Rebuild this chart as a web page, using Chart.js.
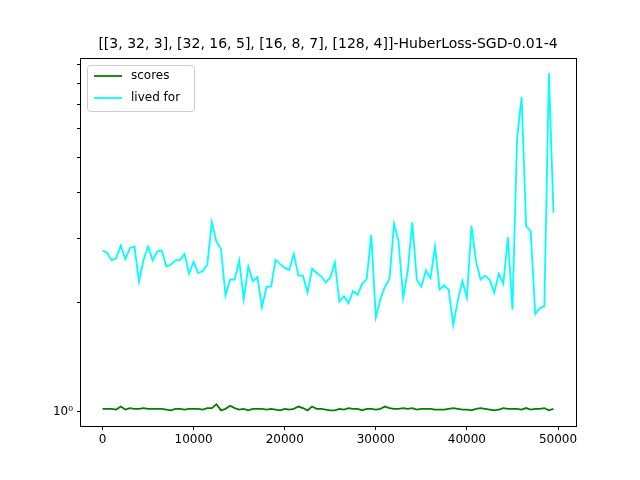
<!DOCTYPE html>
<html><head><meta charset="utf-8">
<script src="https://cdn.jsdelivr.net/npm/chart.js@4.4.0/dist/chart.umd.min.js"></script>
<style>body{margin:0;background:#fff}#c{display:block}</style>
</head><body>
<canvas id="c" width="640" height="480"></canvas>
<script>
const steps=[];for(let i=0;i<100;i++)steps.push(i*500);
const livedFor=[2.78,2.74,2.61,2.65,2.87,2.63,2.82,2.85,2.28,2.62,
2.85,2.61,2.76,2.78,2.51,2.54,2.61,2.62,2.72,2.40,
2.59,2.41,2.44,2.54,3.32,2.94,2.81,2.09,2.31,2.31,
2.61,2.04,2.51,2.29,2.35,1.94,2.21,2.21,2.62,2.55,
2.49,2.46,2.72,2.37,2.37,2.13,2.48,2.41,2.36,2.27,
2.34,2.58,2.01,2.08,1.99,2.15,2.10,2.25,2.32,3.07,
1.82,2.04,2.21,2.32,3.29,2.94,2.06,2.44,3.32,2.31,
2.21,2.45,2.33,2.85,2.17,2.23,2.17,1.73,2.03,2.29,
2.06,3.25,2.59,2.31,2.37,2.31,2.13,2.40,2.25,3.02,
1.91,5.61,7.34,3.24,3.14,1.86,1.93,1.95,8.54,3.53];
const scores=[1.02,1.02,1.02,1.015,1.035,1.015,1.025,1.02,1.02,1.025,
1.02,1.02,1.02,1.02,1.015,1.01,1.02,1.02,1.015,1.02,
1.02,1.02,1.015,1.025,1.025,1.05,1.01,1.02,1.04,1.025,
1.015,1.02,1.01,1.02,1.02,1.02,1.015,1.02,1.015,1.01,
1.02,1.015,1.02,1.035,1.025,1.01,1.035,1.02,1.02,1.015,
1.01,1.01,1.02,1.015,1.025,1.02,1.02,1.01,1.02,1.02,
1.015,1.02,1.035,1.025,1.02,1.02,1.025,1.02,1.025,1.015,
1.02,1.02,1.02,1.015,1.015,1.015,1.02,1.025,1.02,1.015,
1.015,1.01,1.02,1.025,1.02,1.015,1.01,1.015,1.025,1.02,
1.02,1.02,1.015,1.025,1.015,1.02,1.02,1.025,1.01,1.02];
const xTicks=[0,10000,20000,30000,40000,50000];
const seriesNames=["scores","lived for"];
const titleText="[[3, 32, 3], [32, 16, 5], [16, 8, 7], [128, 4]]-HuberLoss-SGD-0.01-4";
const font="'DejaVu Sans', sans-serif";

const overlay={id:"overlay",afterDraw(ch){
  const c=ch.ctx,a=ch.chartArea;
  c.save();
  c.strokeStyle="#000";c.lineWidth=1;
  c.strokeRect(a.left+0.5,a.top+0.5,a.right-a.left,a.bottom-a.top);
  c.fillStyle="#000";c.font="14px "+font;c.textAlign="center";c.textBaseline="alphabetic";
  c.fillText(titleText,(a.left+a.right)/2,a.top-10);
  // legend
  const x=a.left+7,y=a.top+7,w=107,h=46;
  c.fillStyle="rgba(255,255,255,0.8)";c.strokeStyle="#ccc";
  c.beginPath();c.roundRect(x+0.5,y+0.5,w,h,3);c.fill();c.stroke();
  const cols=["green","cyan"];
  c.font="12px "+font;c.textAlign="left";c.textBaseline="middle";
  seriesNames.forEach((n,i)=>{
    const ly=y+11+i*22;
    c.strokeStyle=cols[i];c.lineWidth=1.8;
    c.beginPath();c.moveTo(x+7,ly);c.lineTo(x+35,ly);c.stroke();
    c.fillStyle="#000";c.fillText(n,x+44,ly);
  });
  c.restore();
}};

new Chart(document.getElementById("c"),{
  type:"line",
  data:{labels:steps,datasets:[
    {label:seriesNames[0],data:scores,borderColor:"green",borderWidth:1.8,pointRadius:0,tension:0},
    {label:seriesNames[1],data:livedFor,borderColor:"cyan",borderWidth:1.8,pointRadius:0,tension:0}
  ]},
  options:{responsive:false,animation:false,
    layout:{padding:{top:58,right:64,left:0,bottom:0}},
    plugins:{legend:{display:false},title:{display:false},tooltip:{enabled:false}},
    scales:{
      x:{type:"linear",min:-2475,max:51975,
        afterBuildTicks(ax){ax.ticks=xTicks.map(v=>({value:v}));},
        afterFit(ax){ax.height=54;},
        grid:{drawOnChartArea:false,drawTicks:true,tickLength:4,color:"#000"},border:{display:false},
        ticks:{color:"#000",font:{family:font,size:12},maxRotation:0,padding:3,callback:v=>String(v)}},
      y:{type:"logarithmic",min:0.915,max:9.4,
        afterBuildTicks(ax){ax.ticks=[1,2,3,4,5,6,7,8,9].map(v=>({value:v}));},
        afterFit(ax){ax.width=80;},
        grid:{drawOnChartArea:false,drawTicks:true,tickLength:3,color:"#000"},border:{display:false},
        ticks:{color:"#000",font:{family:font,size:12},padding:4,autoSkip:false,
          callback:v=>v===1?"10⁰":""}}
    }},
  plugins:[overlay]
});
</script>
</body></html>
